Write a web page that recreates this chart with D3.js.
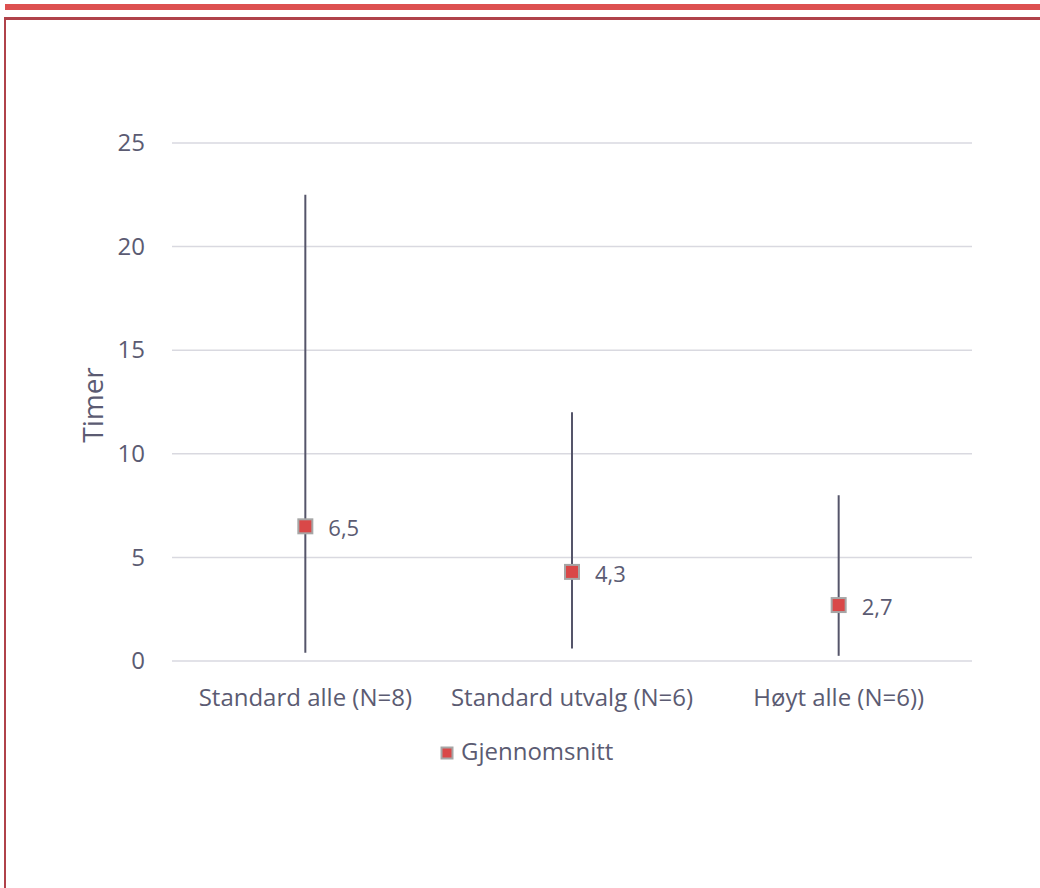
<!DOCTYPE html>
<html><head><meta charset="utf-8">
<script src="https://cdn.jsdelivr.net/npm/d3@7/dist/d3.min.js"></script>
<style>body{margin:0;background:#fff}svg{display:block}</style>
</head><body>
<script>
const categories = ["Standard alle (N=8)", "Standard utvalg (N=6)", "Høyt alle (N=6))"];
const means = [6.5, 4.3, 2.7];
const meanLabels = ["6,5", "4,3", "2,7"];
const lows = [0.4, 0.6, 0.25];
const highs = [22.5, 12, 8];
const yTicks = [0, 5, 10, 15, 20, 25];
const legendLabel = "Gjennomsnitt";
const yTitle = "Timer";

const W = 1040, H = 888;
const svg = d3.select("body").append("svg").attr("width", W).attr("height", H);
const font = "'Open Sans', sans-serif";
const txt = "#5b5b72";

// decorative top band and frame
svg.append("rect").attr("x", 5).attr("y", 4).attr("width", W - 5).attr("height", 6).attr("fill", "#dd5050");
svg.append("rect").attr("x", 4).attr("y", 17).attr("width", W - 4).attr("height", 3).attr("fill", "#b0424a");
svg.append("rect").attr("x", 4).attr("y", 17).attr("width", 2).attr("height", H - 17).attr("fill", "#b0424a");

const x = d3.scaleBand().domain(categories).range([172, 972]);
const y = d3.scaleLinear().domain([0, 25]).range([661, 143]);

// gridlines
svg.append("g").selectAll("line").data(yTicks).join("line")
  .attr("x1", 172).attr("x2", 972)
  .attr("y1", d => y(d)).attr("y2", d => y(d))
  .attr("stroke", "#d9d9e0").attr("stroke-width", 1.5);

// y axis
const yAxis = svg.append("g").attr("transform", "translate(172,0)")
  .call(d3.axisLeft(y).tickValues(yTicks).tickSize(0).tickPadding(27));
yAxis.select(".domain").remove();
yAxis.selectAll("text").attr("font-family", font).attr("font-size", 24).attr("fill", txt);

// x axis
const xAxis = svg.append("g").attr("transform", "translate(0,661)")
  .call(d3.axisBottom(x).tickSize(0).tickPadding(28));
xAxis.select(".domain").remove();
xAxis.selectAll("text").attr("font-family", font).attr("font-size", 24).attr("fill", txt);

// y title
svg.append("text").attr("transform", "translate(93,405) rotate(-90)")
  .attr("text-anchor", "middle").attr("dy", "0.35em")
  .attr("font-family", font).attr("font-size", 28).attr("fill", txt)
  .text(yTitle);

const cx = d => x(d) + x.bandwidth() / 2;
// error bars
svg.append("g").selectAll("line").data(categories).join("line")
  .attr("x1", cx).attr("x2", cx)
  .attr("y1", (d, i) => y(highs[i])).attr("y2", (d, i) => y(lows[i]))
  .attr("stroke", "#55556a").attr("stroke-width", 2);

// markers
svg.append("g").selectAll("rect").data(categories).join("rect")
  .attr("x", d => cx(d) - 7).attr("y", (d, i) => y(means[i]) - 7)
  .attr("width", 14).attr("height", 14)
  .attr("fill", "#d94848").attr("stroke", "#a6a6a6").attr("stroke-width", 2);

// labels
svg.append("g").selectAll("text").data(categories).join("text")
  .attr("x", d => cx(d) + 23).attr("y", (d, i) => y(means[i]) + 2)
  .attr("dy", "0.35em").attr("font-family", font).attr("font-size", 22).attr("fill", txt)
  .text((d, i) => meanLabels[i]);

// legend
svg.append("rect").attr("x", 441.5).attr("y", 747.5).attr("width", 11).attr("height", 11)
  .attr("fill", "#d94848").attr("stroke", "#a6a6a6").attr("stroke-width", 2);
svg.append("text").attr("x", 461).attr("y", 752).attr("dy", "0.35em")
  .attr("font-family", font).attr("font-size", 24).attr("fill", txt).text(legendLabel);
</script>
</body></html>
